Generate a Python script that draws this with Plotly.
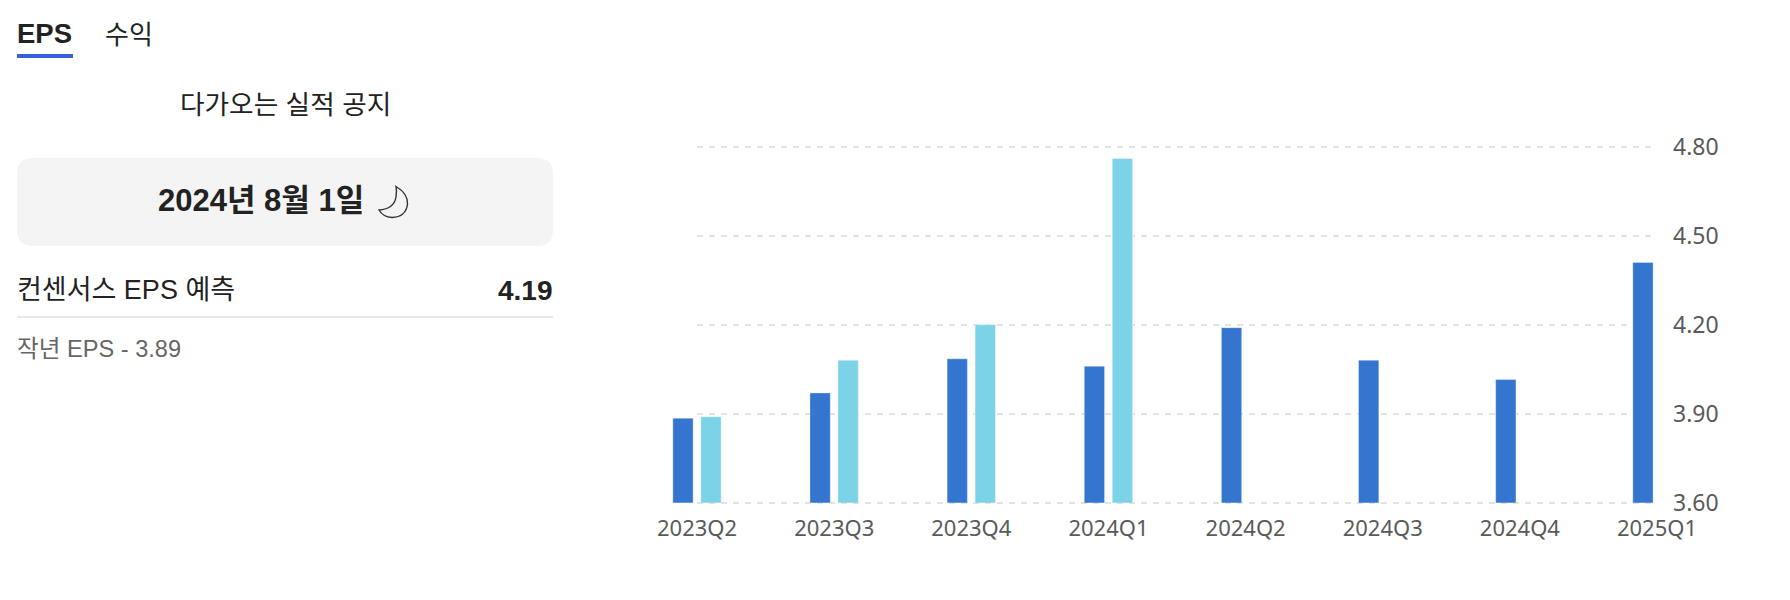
import plotly.graph_objects as go

W, H = 1790, 600
quarters = ["2023Q2", "2023Q3", "2023Q4", "2024Q1", "2024Q2", "2024Q3", "2024Q4", "2025Q1"]
estimate = [3.885, 3.97, 4.085, 4.06, 4.19, 4.08, 4.015, 4.41]
actual = [3.89, 4.08, 4.20, 4.76, None, None, None, None]
y_ticks = [3.6, 3.9, 4.2, 4.5, 4.8]
y_labels = ["3.60", "3.90", "4.20", "4.50", "4.80"]

SANS = "'Liberation Sans', 'Noto Sans CJK KR', sans-serif"
X_FONT = dict(family="'Noto Sans', 'Open Sans', sans-serif", size=22, color="#5a5a5a")
Y_FONT = dict(family="'Noto Sans', 'Open Sans', sans-serif", size=23, color="#5a5a5a")

GRID_TOP, GRID_BOTTOM = 146.7, 502.7


def px(x):
    return x / W


def py(y):
    return 1 - y / H


def pt(x, y):
    return f"{px(x)} {py(y)}"


def round_rect(x0, y0, x1, y1, r):
    return (
        f"M {pt(x0 + r, y0)} L {pt(x1 - r, y0)} Q {pt(x1, y0)} {pt(x1, y0 + r)} "
        f"L {pt(x1, y1 - r)} Q {pt(x1, y1)} {pt(x1 - r, y1)} L {pt(x0 + r, y1)} "
        f"Q {pt(x0, y1)} {pt(x0, y1 - r)} L {pt(x0, y0 + r)} Q {pt(x0, y0)} {pt(x0 + r, y0)} Z"
    )


moon = (
    f"M {pt(396, 186.5)} Q {pt(408, 193.5)} {pt(407.5, 204)} Q {pt(406, 217)} {pt(392, 217.5)} "
    f"Q {pt(383, 217)} {pt(379, 210)} Q {pt(394, 209)} {pt(396, 197)} Q {pt(397, 191)} {pt(396, 186.5)} Z"
)

# Bars live on x2/y2 (exact range); the grid axis y is widened a little so its end lines are drawn.
PAD = 0.02
PX_PER_UNIT = (GRID_BOTTOM - GRID_TOP) / 1.2
pad_px = PAD * PX_PER_UNIT

fig = go.Figure()
fig.add_trace(go.Scatter(x=[0], y=[3.6], mode="markers", marker=dict(opacity=0),
                         xaxis="x", yaxis="y", showlegend=False, hoverinfo="skip"))
bar_w = 20.3 / 137.1
EDGE = dict(color="rgba(255,255,255,0.35)", width=1)
fig.add_trace(go.Bar(x=list(range(8)), y=estimate, xaxis="x2", yaxis="y2", width=bar_w, offset=-0.1765,
                     marker=dict(color="#3476cf", line=EDGE), name="컨센서스",
                     showlegend=False, cliponaxis=False))
fig.add_trace(go.Bar(x=list(range(8)), y=actual, xaxis="x2", yaxis="y2", width=bar_w, offset=0.0277,
                     marker=dict(color="#7cd2e6", line=EDGE), name="실적",
                     showlegend=False, cliponaxis=False))

shapes = [
    dict(type="rect", xref="paper", yref="paper", x0=px(17), x1=px(73), y0=py(58), y1=py(54),
         fillcolor="#3563e0", line_width=0),
    dict(type="path", xref="paper", yref="paper", path=round_rect(17, 158, 553, 246, 16),
         fillcolor="#f4f4f4", line_width=0),
    dict(type="line", xref="paper", yref="paper", x0=px(17), x1=px(553), y0=py(317), y1=py(317),
         line=dict(color="#e8e8e8", width=2)),
    dict(type="path", xref="paper", yref="paper", path=moon, fillcolor="rgba(0,0,0,0)",
         line=dict(color="#333333", width=1.4)),
]


def text(x, y, s, size, color="#222222", bold=False, anchor="left"):
    return dict(xref="paper", yref="paper", x=px(x), y=py(y), text=f"<b>{s}</b>" if bold else s,
                showarrow=False, xanchor=anchor, yanchor="middle",
                font=dict(family=SANS, size=size, color=color))


annotations = [
    text(15, 34, "EPS", 27.5, bold=True),
    text(103, 35, "수익", 26),
    text(285, 105, "다가오는 실적 공지", 26.7, anchor="center"),
    text(261, 201, "2024년 8월 1일", 31, bold=True, anchor="center"),
    text(15, 290, "컨센서스 EPS 예측", 27),
    text(555, 290, "4.19", 28, bold=True, anchor="right"),
    text(15, 349, "작년 EPS - 3.89", 23.6, color="#666666"),
]

fig.update_layout(
    template="none",
    width=W, height=H, autosize=False,
    margin=dict(l=0, r=0, t=0, b=0, pad=0, autoexpand=False),
    paper_bgcolor="white", plot_bgcolor="rgba(0,0,0,0)",
    barmode="overlay", showlegend=False,
    shapes=shapes, annotations=annotations,
    xaxis=dict(domain=[px(697), px(1651)], range=[0, 1], visible=False),
    yaxis=dict(domain=[py(GRID_BOTTOM + pad_px), py(GRID_TOP - pad_px)], range=[3.6 - PAD, 4.8 + PAD],
               side="right", anchor="x", tickmode="array", tickvals=y_ticks, ticktext=y_labels,
               tickfont=Y_FONT, ticklabelstandoff=21, showgrid=True, gridcolor="#e2e2e2",
               gridwidth=2, griddash="6px,6px", zeroline=False, showline=False, ticks="",
               automargin=False),
    xaxis2=dict(domain=[px(697 - 137.1), px(1657)], range=[-1, 7], anchor="y2",
                tickmode="array", tickvals=list(range(8)), ticktext=quarters, tickfont=X_FONT,
                showgrid=False, zeroline=False, showline=False, ticks="", ticklabelstandoff=10,
                automargin=False),
    yaxis2=dict(domain=[py(GRID_BOTTOM), py(GRID_TOP)], range=[3.6, 4.8], anchor="x2", visible=False,
                showgrid=False, zeroline=False),
)

fig.write_html("out.html", config={"displayModeBar": False},
               post_script="document.body.style.margin='0';document.body.style.overflow='hidden';")
